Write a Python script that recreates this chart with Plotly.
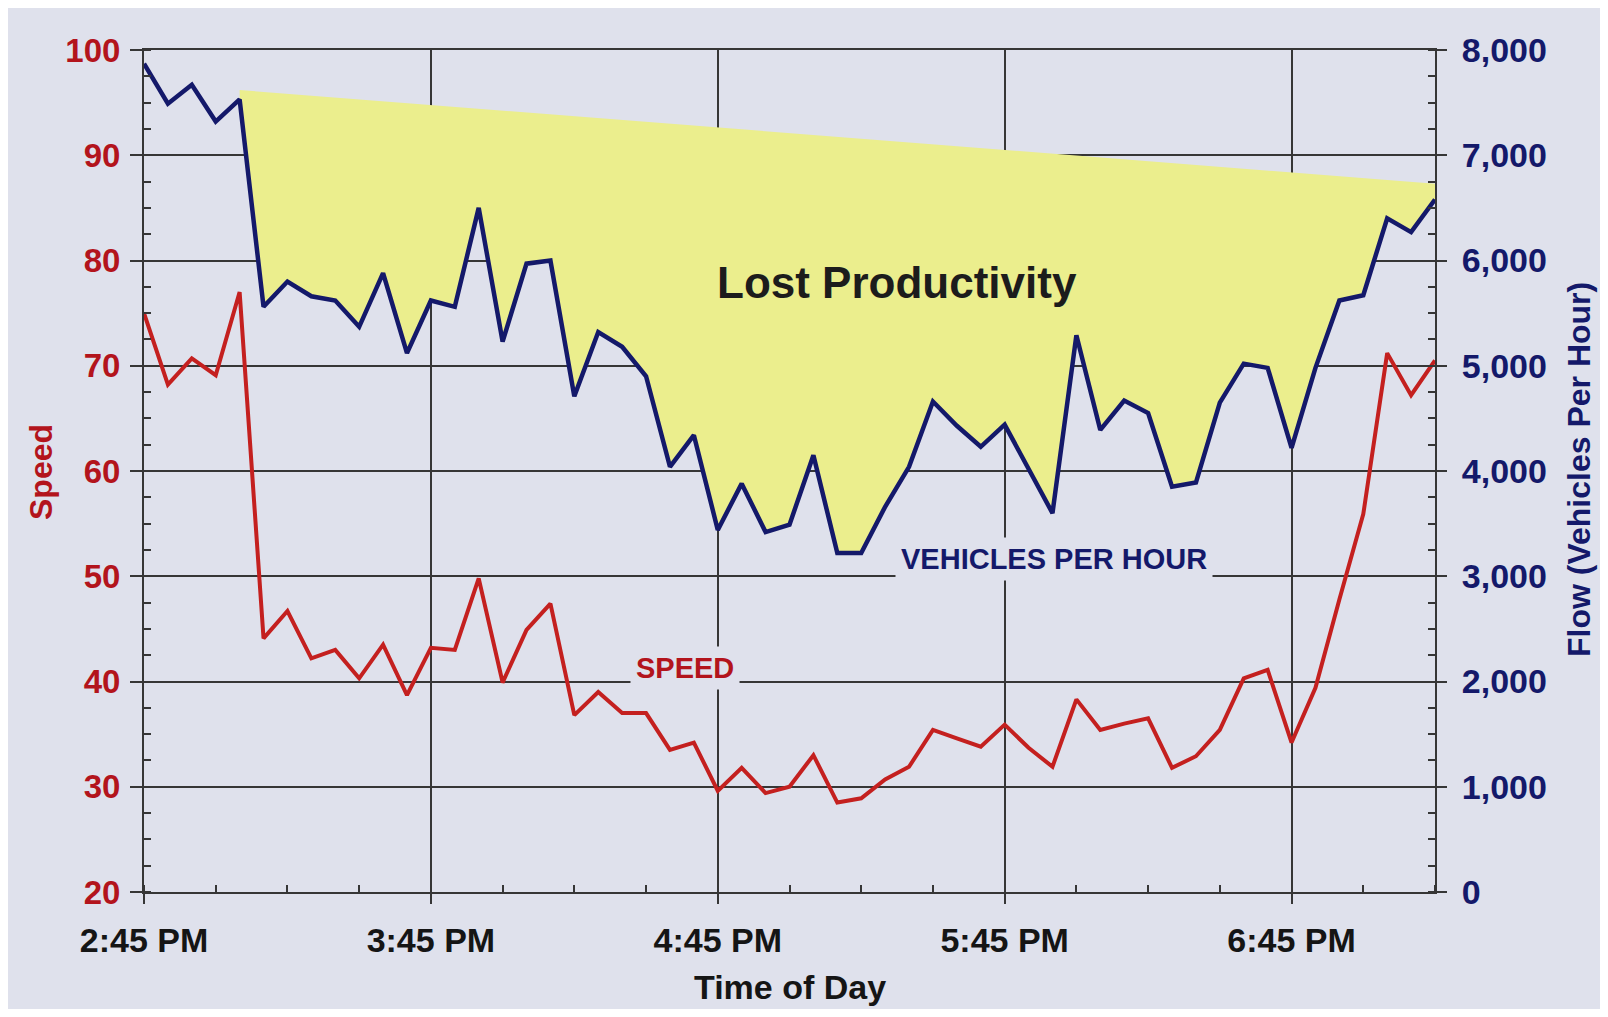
import plotly.graph_objects as go

# ---------------- data ----------------
time_labels = [
    "14:45", "14:50", "14:55", "15:00", "15:05", "15:10", "15:15", "15:20", "15:25", "15:30",
    "15:35", "15:40", "15:45", "15:50", "15:55", "16:00", "16:05", "16:10", "16:15", "16:20",
    "16:25", "16:30", "16:35", "16:40", "16:45", "16:50", "16:55", "17:00", "17:05", "17:10",
    "17:15", "17:20", "17:25", "17:30", "17:35", "17:40", "17:45", "17:50", "17:55", "18:00",
    "18:05", "18:10", "18:15", "18:20", "18:25", "18:30", "18:35", "18:40", "18:45", "18:50",
    "18:55", "19:00", "19:05", "19:10", "19:15",
]

speed_mph = [
    75.0, 68.2, 70.7, 69.1, 77.0, 44.1, 46.7, 42.2, 43.0, 40.3,
    43.5, 38.7, 43.2, 43.0, 49.8, 39.9, 44.9, 47.4, 36.8, 39.0,
    37.0, 37.0, 33.5, 34.2, 29.6, 31.8, 29.4, 30.0, 33.0, 28.5,
    28.9, 30.7, 31.9, 35.4, 34.6, 33.8, 35.9, 33.7, 31.9, 38.3,
    35.4, 36.0, 36.5, 31.8, 32.9, 35.4, 40.3, 41.1, 34.2, 39.4,
    47.8, 55.9, 71.2, 67.2, 70.5,
]

flow_vph = [
    7870, 7490, 7670, 7320, 7530, 5560, 5800, 5660, 5620, 5370,
    5880, 5120, 5620, 5560, 6500, 5230, 5970, 6000, 4710, 5320,
    5180, 4900, 4040, 4340, 3440, 3880, 3420, 3490, 4150, 3220,
    3220, 3660, 4040, 4660, 4430, 4230, 4440, 4010, 3600, 5290,
    4390, 4670, 4550, 3850, 3890, 4650, 5020, 4980, 4220, 4980,
    5620, 5670, 6400, 6270, 6580,
]

capacity_times = ["15:05", "19:15"]
capacity_vph = [7620, 6730]

x_tick_labels = ["2:45 PM", "3:45 PM", "4:45 PM", "5:45 PM", "6:45 PM"]
x_tick_times = ["14:45", "15:45", "16:45", "17:45", "18:45"]

DAY = "2024-05-01 "
x = [DAY + t for t in time_labels]
cap_x = [DAY + t for t in capacity_times]
start_idx = time_labels.index(capacity_times[0])

# ---------------- style ----------------
FONT = "Arial, Liberation Sans, Helvetica, sans-serif"
BG = "#dfe1ec"
GRID = "#363636"
RED = "#c4201f"
RED_TXT = "#b3141c"
NAVY = "#14196a"
YELLOW = "#ebee8d"

W, H = 1592, 1001          # figure size (page has an 8px body margin)
OFF = 8
L, R, T, B = 136, 1427, 42, 884   # plot area in figure pixels


def px_x(p):  # page pixel -> paper
    return (p - OFF - L) / (R - L)


def px_y(p):
    return (B - (p - OFF)) / (B - T)


fig = go.Figure()

# Lost productivity area (between capacity line and observed flow)
fig.add_trace(go.Scatter(
    x=x[start_idx:] + cap_x[::-1],
    y=flow_vph[start_idx:] + capacity_vph[::-1],
    fill="toself", fillcolor=YELLOW, mode="none",
    yaxis="y2", hoverinfo="skip", showlegend=False,
))

fig.add_trace(go.Scatter(
    x=x, y=speed_mph, mode="lines", yaxis="y",
    line=dict(color=RED, width=4), showlegend=False, name="Speed",
))

fig.add_trace(go.Scatter(
    x=x, y=flow_vph, mode="lines", yaxis="y2",
    line=dict(color=NAVY, width=4.5), showlegend=False, name="Flow",
))


def ann(text, px, py, size, color, bold=True, angle=0, bg=None):
    d = dict(text=text, x=px_x(px), y=px_y(py), xref="paper", yref="paper",
             xanchor="center", yanchor="middle", showarrow=False, textangle=angle,
             font=dict(size=size, color=color, family=FONT,
                       weight="bold" if bold else "normal"))
    if bg:
        d.update(bgcolor=bg, borderpad=5)
    return d


fig.update_layout(
    width=W, height=H,
    margin=dict(l=L, r=W - R, t=T, b=H - B, pad=0),
    paper_bgcolor=BG, plot_bgcolor=BG,
    font=dict(family=FONT),
    xaxis=dict(
        type="date",
        range=[x[0], x[-1]],
        tickvals=[DAY + t for t in x_tick_times],
        ticktext=x_tick_labels,
        showgrid=True, gridcolor=GRID, gridwidth=2,
        ticks="outside", ticklen=10, tickwidth=2, tickcolor=GRID,
        showline=True, linecolor=GRID, linewidth=2, mirror=True,
        zeroline=False,
        tickfont=dict(size=34, color="#151515", family=FONT, weight="bold"),
        ticklabelstandoff=7,
        minor=dict(dtick=15 * 60 * 1000, tick0=x[0], ticks="inside",
                   ticklen=7, tickwidth=2, tickcolor=GRID, showgrid=False),
    ),
    yaxis=dict(
        range=[20, 100], tick0=20, dtick=10,
        showgrid=True, gridcolor=GRID, gridwidth=2,
        ticks="outside", ticklen=12, tickwidth=2, tickcolor=GRID,
        showline=True, linecolor=GRID, linewidth=2,
        zeroline=False,
        tickfont=dict(size=33, color=RED_TXT, family=FONT, weight="bold"),
        ticklabelstandoff=3,
        minor=dict(dtick=2.5, ticks="inside", ticklen=7, tickwidth=2,
                   tickcolor=GRID, showgrid=False),
    ),
    yaxis2=dict(
        overlaying="y", side="right",
        range=[0, 8000], tick0=0, dtick=1000, tickformat=",",
        showgrid=False, zeroline=False,
        ticks="outside", ticklen=10, tickwidth=2, tickcolor=GRID,
        showline=True, linecolor=GRID, linewidth=2,
        tickfont=dict(size=34, color=NAVY, family=FONT, weight="bold"),
        ticklabelstandoff=8,
        minor=dict(dtick=250, ticks="inside", ticklen=7, tickwidth=2,
                   tickcolor=GRID, showgrid=False),
    ),
    annotations=[
        ann("Lost Productivity", 897, 282, 44, "#1c1c1c"),
        ann("VEHICLES PER HOUR", 1054, 559, 29, NAVY, bg=BG),
        ann("SPEED", 685, 668, 29, RED_TXT, bg=BG),
        ann("Speed", 41, 472, 32, RED_TXT, angle=-90),
        ann("Flow (Vehicles Per Hour)", 1579, 469, 32, NAVY, angle=-90),
        ann("Time of Day", 790, 987, 34, "#151515"),
    ],
)

fig.write_html("out.html")
